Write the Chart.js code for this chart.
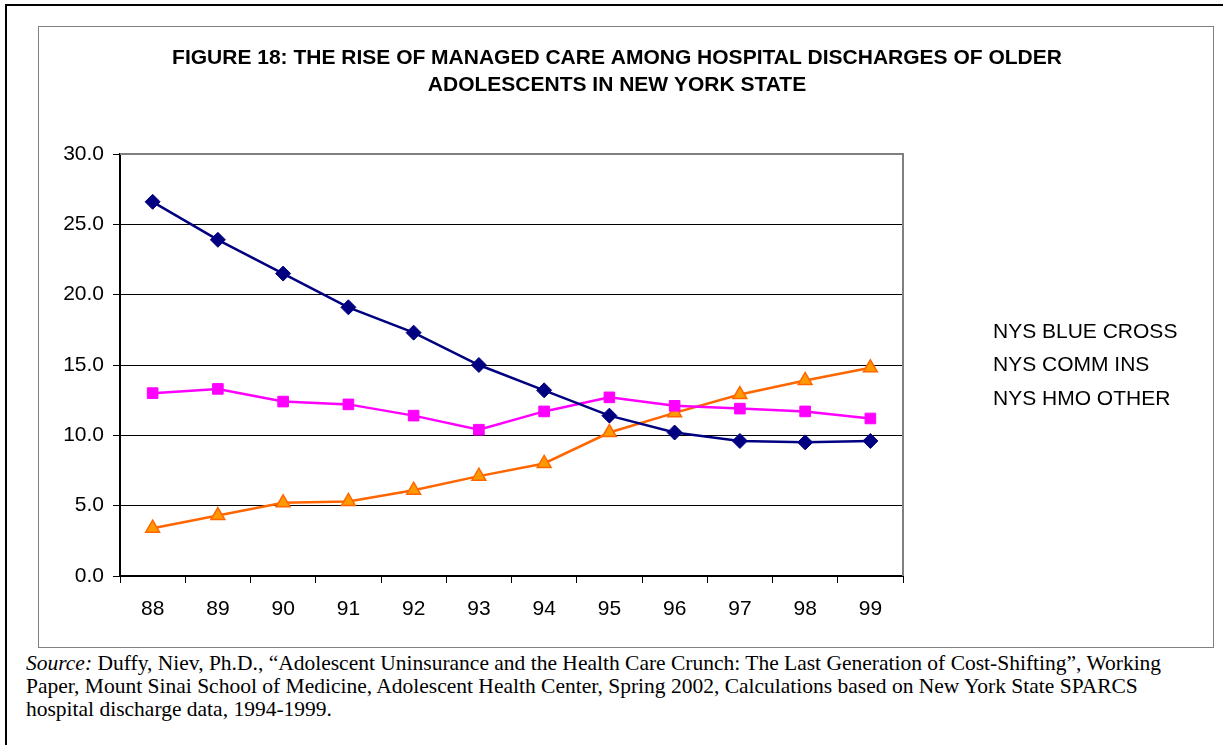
<!DOCTYPE html>
<html lang="en">
<head>
    <meta charset="UTF-8">
    <title>Figure 18</title>
    <script src="https://cdn.jsdelivr.net/npm/chart.js"></script>
    <style>
        body { margin: 0; background: #fff; width: 1223px; height: 745px; overflow: hidden; position: relative; }
        #frame { position: absolute; left: 5px; top: 4px; width: 1240px; height: 780px; border: 2px solid #000; }
        #chart-box { position: absolute; left: 38px; top: 26px; width: 1174px; height: 620px; border: 1px solid #808080; }
        #source {
            position: absolute; left: 26px; top: 652px; width: 1190px; white-space: nowrap;
            font-family: "Liberation Serif", "Times New Roman", serif; font-size: 21.5px; line-height: 23px; color: #000;
        }
    </style>
</head>
<body>
    <div id="frame"></div>
    <div id="chart-box"><canvas id="lineChart" width="1174" height="620"></canvas></div>
    <div id="source"><i>Source:</i> Duffy, Niev, Ph.D., “Adolescent Uninsurance and the Health Care Crunch: The Last Generation of Cost-Shifting”, Working<br>Paper, Mount Sinai School of Medicine, Adolescent Health Center, Spring 2002, Calculations based on New York State SPARCS<br>hospital discharge data, 1994-1999.</div>
    <script>
        const years = ['88', '89', '90', '91', '92', '93', '94', '95', '96', '97', '98', '99'];
        const blueCross = [26.6, 23.9, 21.5, 19.1, 17.3, 15.0, 13.2, 11.4, 10.2, 9.6, 9.5, 9.6];
        const commIns = [13.0, 13.3, 12.4, 12.2, 11.4, 10.4, 11.7, 12.7, 12.1, 11.9, 11.7, 11.2];
        const hmoOther = [3.4, 4.3, 5.2, 5.3, 6.1, 7.1, 8.0, 10.2, 11.6, 12.9, 13.9, 14.8];
        const seriesNames = ['NYS BLUE CROSS', 'NYS COMM INS', 'NYS HMO OTHER'];
        const titleLines = ['FIGURE 18: THE RISE OF MANAGED CARE AMONG HOSPITAL DISCHARGES OF OLDER', 'ADOLESCENTS IN NEW YORK STATE'];

        // title, text-only legend and the grey plot frame (top/right)
        const extras = {
            id: 'extras',
            beforeDatasetsDraw(chart) {
                const { ctx, chartArea } = chart;
                ctx.save();
                ctx.strokeStyle = '#808080';
                ctx.lineWidth = 2;
                ctx.beginPath();
                ctx.moveTo(chartArea.left, chartArea.top);
                ctx.lineTo(chartArea.right, chartArea.top);
                ctx.lineTo(chartArea.right, chartArea.bottom);
                ctx.stroke();
                ctx.restore();
            },
            afterDraw(chart) {
                const ctx = chart.ctx;
                ctx.save();
                ctx.fillStyle = '#000';
                ctx.textAlign = 'center';
                ctx.textBaseline = 'middle';
                ctx.font = 'bold 21px "Liberation Sans", Arial, sans-serif';
                titleLines.forEach((line, i) => ctx.fillText(line, 578, 31 + i * 27));
                ctx.textAlign = 'left';
                ctx.font = '21px "Liberation Sans", Arial, sans-serif';
                chart.data.datasets.forEach((ds, i) => ctx.fillText(ds.label, 954, 305 + i * 33.5));
                ctx.restore();
            }
        };

        const ctx = document.getElementById('lineChart').getContext('2d');
        new Chart(ctx, {
            type: 'line',
            data: {
                labels: years,
                datasets: [
                    {
                        label: seriesNames[0],
                        data: blueCross,
                        borderColor: '#000080',
                        backgroundColor: '#000080',
                        borderWidth: 2.5,
                        pointStyle: 'rectRot',
                        pointRadius: 7.5,
                        pointBorderWidth: 1
                    },
                    {
                        label: seriesNames[1],
                        data: commIns,
                        borderColor: '#FF00FF',
                        backgroundColor: '#FF00FF',
                        borderWidth: 2.5,
                        pointStyle: 'rect',
                        pointRadius: 7.5,
                        pointBorderWidth: 1
                    },
                    {
                        label: seriesNames[2],
                        data: hmoOther,
                        borderColor: '#FF6600',
                        backgroundColor: '#FF9900',
                        borderWidth: 2.5,
                        pointStyle: 'triangle',
                        pointRadius: 8,
                        pointBorderColor: '#FF6600',
                        pointBorderWidth: 1.5
                    }
                ]
            },
            options: {
                responsive: false,
                animation: false,
                layout: { padding: { left: 0, right: 310, top: 127, bottom: 0 } },
                plugins: {
                    legend: { display: false },
                    title: { display: false },
                    tooltip: { enabled: false }
                },
                scales: {
                    x: {
                        offset: true,
                        grid: {
                            offset: true,
                            drawOnChartArea: false,
                            drawTicks: true,
                            tickLength: 7,
                            color: '#000'
                        },
                        border: { color: '#000', width: 2 },
                        ticks: {
                            color: '#000',
                            padding: 14,
                            font: { family: '"Liberation Sans", Arial, sans-serif', size: 21 }
                        },
                        afterFit(scale) { scale.height = 71; }
                    },
                    y: {
                        min: 0,
                        max: 30,
                        ticks: {
                            stepSize: 5,
                            color: '#000',
                            padding: 9,
                            font: { family: '"Liberation Sans", Arial, sans-serif', size: 21 },
                            callback: (v) => Number(v).toFixed(1)
                        },
                        grid: {
                            color: (c) => c.tick && c.tick.value === 30 ? '#808080' : '#000',
                            tickColor: '#000',
                            tickLength: 7,
                            lineWidth: 1
                        },
                        border: { color: '#000', width: 2 },
                        afterFit(scale) { scale.width = 81; }
                    }
                }
            },
            plugins: [extras]
        });
    </script>
</body>
</html>
